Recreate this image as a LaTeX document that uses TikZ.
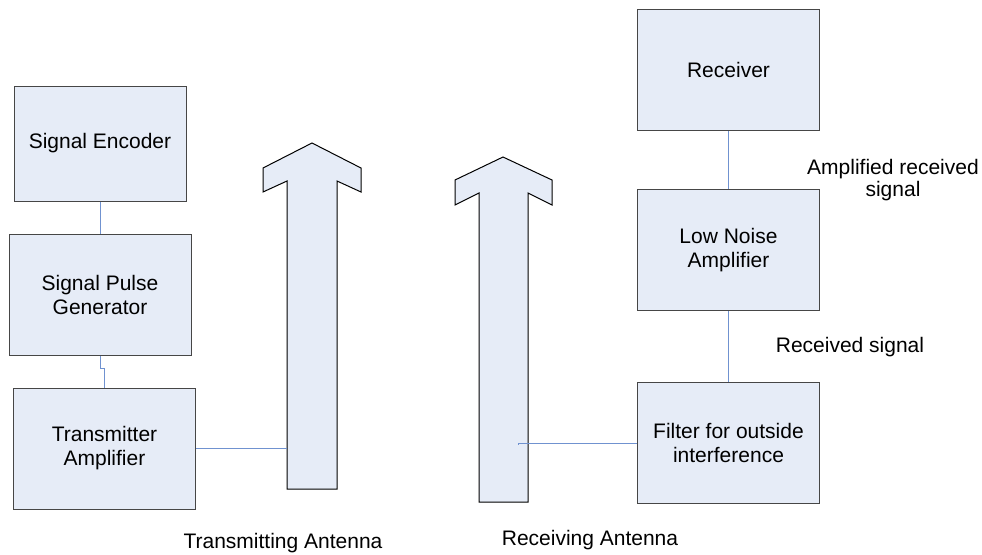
\documentclass[tikz,border=0pt]{standalone}
\usepackage{fontspec}
\setmainfont{Liberation Sans}
\usetikzlibrary{positioning}
\definecolor{boxfill}{RGB}{230,236,247}
\definecolor{boxline}{RGB}{70,70,70}
\definecolor{wirecol}{RGB}{112,146,208}

\begin{document}
\begin{tikzpicture}[
    x=1pt, y=-1pt,
    every node/.style={font=\fontsize{21}{24}\selectfont},
    box/.style={draw=boxline, fill=boxfill, line width=1pt, align=center, minimum width=182pt, minimum height=121pt, inner sep=2pt},
    antenna/.style={draw=black, fill=boxfill, line width=1pt, line join=miter},
    wire/.style={draw=wirecol, line width=1pt}
  ]
    \useasboundingbox (0,0) rectangle (982,554);

    % transmit side
    \node[box, minimum width=172pt, minimum height=115pt] (enc) at (100,143.5) {Signal Encoder};
    \node[box, below=32pt of enc] (pulse) {Signal Pulse\\Generator};
    \node[box, below=32pt of pulse, xshift=4.5pt] (txamp) {Transmitter\\Amplifier};

    \draw[antenna] (312,143) -- (361,168) -- (361,192) -- (337,181) -- (337,489)
      -- (287,489) -- (287,181) -- (263,192) -- (263,168) -- cycle;
    \coordinate (txfeed) at (287,448);
    \node[anchor=base] (txlabel) at (283,548) {Transmitting Antenna};

    % receive side
    \node[box] (rx) at (728.5,70) {Receiver};
    \node[box, below=58pt of rx] (lna) {Low Noise\\Amplifier};
    \node[box, below=71pt of lna] (filter) {Filter for outside\\interference};

    \draw[antenna] (503,157) -- (552,180) -- (552,205) -- (528,193) -- (528,502)
      -- (479,502) -- (479,193) -- (455,205) -- (455,180) -- cycle;
    \coordinate (rxfeed) at (518,441);
    \node[anchor=base] (rxlabel) at (590,545) {Receiving Antenna};

    \node[align=center, font=\fontsize{21}{22}\selectfont] (amplbl) at (893,180) {Amplified received\\signal};
    \node (reclbl) at (850,347) {Received signal};

    % connectors
    \draw[wire] (enc.south) -- (enc.south |- pulse.north);
    \draw[wire] (pulse.south) -- ++(0,13) -| (txamp.north);
    \draw[wire] (txamp.east |- txfeed) -- (txfeed);
    \draw[wire] (rx.south) -- (lna.north);
    \draw[wire] (lna.south) -- (filter.north);
    \draw[wire] (filter.west) -- (filter.west -| rxfeed) -- ++(0,2);
  \end{tikzpicture}
\end{document}
